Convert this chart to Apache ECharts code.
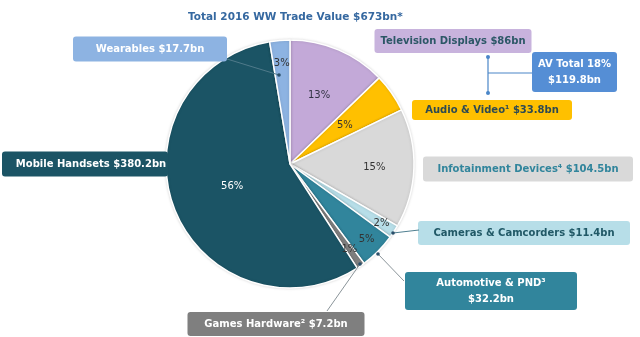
<!DOCTYPE html>
<html>
<head>
<meta charset="utf-8">
<script src="https://cdn.jsdelivr.net/npm/echarts@6/dist/echarts.min.js"></script>
<style>html,body{margin:0;padding:0;background:#fff}#c{width:640px;height:337px}</style>
</head>
<body>
<div id="c"></div>
<script>
// ---- data ----
const names = ['Television Displays', 'Audio & Video\u00b9', 'Infotainment Devices\u2074', 'Cameras & Camcorders', 'Automotive & PND\u00b3', 'Games Hardware\u00b2', 'Mobile Handsets', 'Wearables'];
const values = [86, 33.8, 104.5, 11.4, 32.2, 7.2, 380.2, 17.7];
const pctLabels = ['13%', '5%', '15%', '2%', '5%', '1%', '56%', '3%'];
const valueLabels = ['$86bn', '$33.8bn', '$104.5bn', '$11.4bn', '$32.2bn', '$7.2bn', '$380.2bn', '$17.7bn'];
const titleText = 'Total 2016 WW Trade Value $673bn*';
const avTotalLines = ['AV Total 18%', '$119.8bn'];

// ---- styles ----
const FONT = '"DejaVu Sans", Verdana, sans-serif';
const sliceColors = ['#c3a9d8', '#ffc000', '#d9d9d9', '#b7dee8', '#31859c', '#7f7f7f', '#1b5465', '#8db3e2'];
const boxColors   = ['#c8b3dd', '#ffc000', '#d9d9d9', '#b7dee8', '#31859c', '#7f7f7f', '#1b5465', '#8db3e2'];
const boxText     = ['#2c5766', '#2e4a52', '#31859c', '#215967', '#ffffff', '#ffffff', '#ffffff', '#ffffff'];
const pctText     = ['#333344', '#333333', '#333333', '#333333', '#333333', '#333333', '#ffffff', '#333333'];
// box centre x, centre y, content width, height, [left pad, right pad]
const boxes = [
  [453, 41, 157, 24, [0, 0]],
  [492, 110, 160, 20, [0, 0]],
  [528, 169, 210, 25, [0, 0]],
  [524, 233, 212, 24, [0, 0]],
  [491, 291, 172, 38, [0, 0]],
  [276, 324, 177, 24, [0, 0]],
  [85, 164, 154, 25, [12, 0]],
  [150, 49, 154, 25, [0, 0]]
];
const twoLine = [false, false, false, false, true, false, false, false];
// leader line layout: [start (inside slice), end (at box)]
const leaders = [null, null, null,
  [[393, 233], [419, 230]],
  [[378, 254], [404, 281]],
  [[360, 264], [327, 311]],
  null,
  [[279, 75], [227, 59]]
];
const leaderColors = [null, null, null, '#4f7f90', '#8a9499', '#8a9499', null, '#4f7a8a'];
const radialFactor = [0.6, 0.54, 0.68, 0.88, 0.87, 0.84, 0.5, 0.81];
const CX = 290, CY = 164, R = 124;

const chart = echarts.init(document.getElementById('c'), null, {renderer: 'canvas'});

const boxData = names.map((n, i) => {
  const b = boxes[i];
  return {
    name: n,
    value: values[i],
    itemStyle: {color: sliceColors[i]},
    label: {
      backgroundColor: boxColors[i],
      color: boxText[i],
      width: b[2],
      overflow: 'none',
      lineHeight: twoLine[i] ? 16 : b[3],
      padding: twoLine[i] ? [3, b[4][1], 3, b[4][0]] : [0, b[4][1], 0, b[4][0]]
    }
  };
});

const pctData = names.map((n, i) => ({
  name: n,
  value: values[i],
  label: {color: pctText[i]}
}));

const leaderGraphics = [];
leaders.forEach((l, i) => {
  if (!l) return;
  leaderGraphics.push({type: 'polyline', z: 100, shape: {points: l}, style: {stroke: leaderColors[i], lineWidth: 1, fill: null}});
  leaderGraphics.push({type: 'circle', z: 101, shape: {cx: l[0][0], cy: l[0][1], r: 1.8}, style: {fill: '#2a4f6a'}});
});

chart.setOption({
  animation: false,
  title: {
    text: titleText,
    left: 183, top: 7,
    textStyle: {fontFamily: FONT, fontSize: 10.5, fontWeight: 'bold', color: '#3568a0'}
  },
  series: [
    {
      type: 'pie',
      center: [CX, CY],
      radius: R,
      startAngle: 90,
      clockwise: true,
      silent: true,
      itemStyle: {borderColor: '#ffffff', borderWidth: 1.5, shadowBlur: 3, shadowColor: 'rgba(0,0,0,0.15)'},
      label: {
        show: true,
        position: 'outside',
        fontFamily: FONT, fontSize: 10, fontWeight: 'bold',
        align: 'center',
        borderRadius: 3,
        formatter: p => names[p.dataIndex] + (twoLine[p.dataIndex] ? '\n' : ' ') + valueLabels[p.dataIndex]
      },
      labelLine: {show: false},
      labelLayout: p => {
        const b = boxes[p.dataIndex];
        return {x: b[0], y: b[1], align: 'center', verticalAlign: 'middle'};
      },
      data: boxData
    },
    {
      type: 'pie',
      center: [CX, CY],
      radius: R,
      startAngle: 90,
      clockwise: true,
      silent: true,
      itemStyle: {color: 'rgba(0,0,0,0)', borderWidth: 0},
      label: {
        show: true,
        position: 'inside',
        fontFamily: FONT, fontSize: 10,
        formatter: p => pctLabels[p.dataIndex]
      },
      labelLine: {show: false},
      labelLayout: p => {
        const lr = p.labelRect;
        const lx = lr.x + lr.width / 2, ly = lr.y + lr.height / 2;
        const dx = lx - CX, dy = ly - CY;
        const d = Math.sqrt(dx * dx + dy * dy) || 1;
        const r = radialFactor[p.dataIndex] * R;
        return {x: CX + dx / d * r, y: CY + dy / d * r, align: 'center', verticalAlign: 'middle'};
      },
      data: pctData
    }
  ],
  graphic: [
    {type: 'line', shape: {x1: 488, y1: 57, x2: 488, y2: 93}, style: {stroke: '#4a86c8', lineWidth: 1.2}},
    {type: 'line', shape: {x1: 488, y1: 73, x2: 532, y2: 73}, style: {stroke: '#4a86c8', lineWidth: 1.2}},
    {type: 'circle', shape: {cx: 488, cy: 57, r: 2}, style: {fill: '#4a86c8'}},
    {type: 'circle', shape: {cx: 488, cy: 93, r: 2}, style: {fill: '#4a86c8'}},
    {type: 'rect', shape: {x: 532, y: 52, width: 85, height: 40, r: 3}, style: {fill: '#558ed5'}},
    {type: 'text', x: 574.5, y: 72, style: {
      text: avTotalLines.join('\n'), fill: '#ffffff', font: 'bold 10px ' + FONT,
      align: 'center', verticalAlign: 'middle', lineHeight: 16
    }}
  ].concat(leaderGraphics)
});
</script>
</body>
</html>
